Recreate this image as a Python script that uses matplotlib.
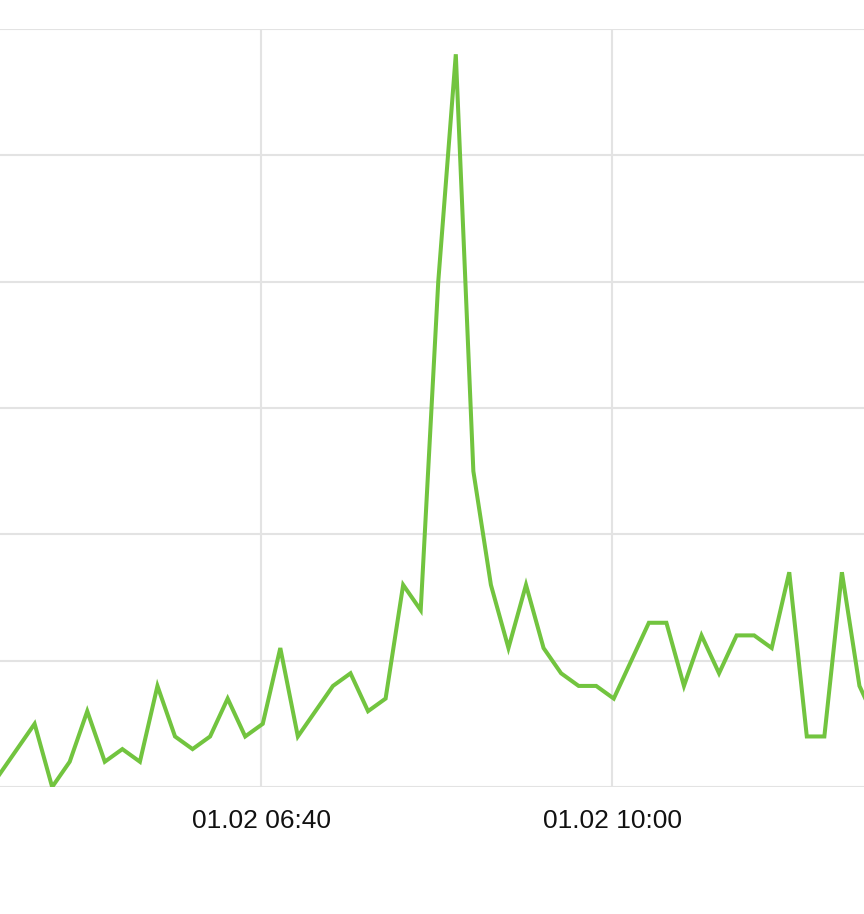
import matplotlib
matplotlib.use("Agg")
import matplotlib.pyplot as plt
import matplotlib.dates as mdates
import numpy as np
import pandas as pd

# ---- data ----
start_time = "2024-01-02 04:11"
step_minutes = 10
values = [1, 3, 5, 0, 2, 6, 2, 3, 2, 8,
          4, 3, 4, 7, 4, 5, 11, 4, 6, 8,
          9, 6, 7, 16, 14, 40, 58, 25, 16, 11,
          16, 11, 9, 8, 8, 7, 10, 13, 13, 8,
          12, 9, 12, 12, 11, 17, 4, 4, 17, 8, 5]
tick_times = ["2024-01-02 06:40", "2024-01-02 10:00"]
y_ticks = [0, 10, 20, 30, 40, 50, 60]

times = pd.date_range(start_time, periods=len(values), freq=f"{step_minutes}min")

fig = plt.figure(figsize=(8.64, 9.14), dpi=100)
ax = fig.add_axes([0, 127 / 914, 1, 758 / 914])

ax.plot(times, values, color="#72C43F", linewidth=2.9, solid_joinstyle="miter", zorder=3)

ax.set_xticks(pd.to_datetime(tick_times))
ax.xaxis.set_major_formatter(mdates.DateFormatter("%m.%d %H:%M"))
ax.set_yticks(y_ticks)

ref = pd.Timestamp("2024-01-02 06:40")
left = ref - pd.Timedelta(minutes=261 / 1.755)
right = ref + pd.Timedelta(minutes=603 / 1.755)
ax.set_xlim(left, right)
ax.set_ylim(0, 60)

ax.grid(True, color="#e3e3e3", linewidth=1.5, zorder=0)
for s in ax.spines.values():
    s.set_visible(False)
ax.tick_params(axis="x", length=0, pad=16, labelsize=19, labelcolor="#111111")
ax.tick_params(axis="y", length=0, labelleft=False)
for lbl in ax.get_xticklabels():
    lbl.set_fontfamily(["Liberation Sans", "DejaVu Sans"])

fig.savefig("out.png", dpi=100, facecolor="white")
